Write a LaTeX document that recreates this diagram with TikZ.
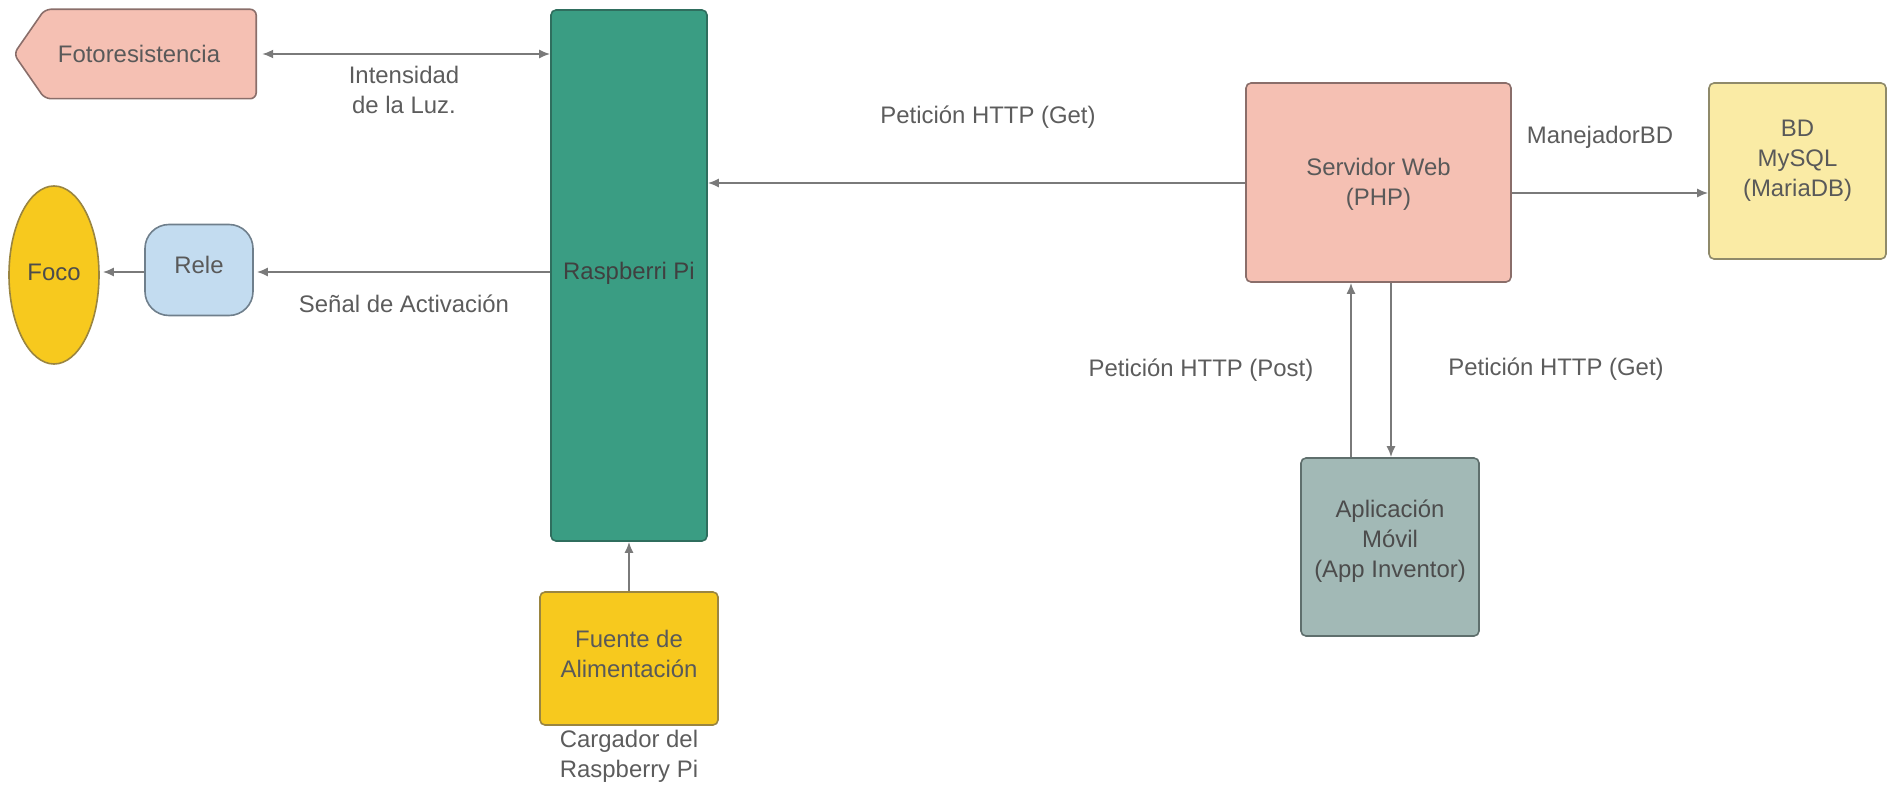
\documentclass[tikz,border=0pt]{standalone}
\usepackage{fontspec}
\setmainfont{Liberation Sans}
\usetikzlibrary{arrows.meta,shapes.geometric}
\definecolor{pinkfill}{HTML}{F5C0B3}
\definecolor{pinkdraw}{HTML}{8A6E6A}
\definecolor{tealfill}{HTML}{3A9D83}
\definecolor{tealdraw}{HTML}{2F6E5E}
\definecolor{yelfill}{HTML}{F7C91E}
\definecolor{yeldraw}{HTML}{9A8540}
\definecolor{bluefill}{HTML}{C3DCF0}
\definecolor{bluedraw}{HTML}{6F7F8C}
\definecolor{lyelfill}{HTML}{FAEBA5}
\definecolor{lyeldraw}{HTML}{8F8A6A}
\definecolor{appfill}{HTML}{A2B9B6}
\definecolor{appdraw}{HTML}{5F6F6D}
\definecolor{linegray}{HTML}{7A7A7A}
\definecolor{txtgray}{HTML}{5C5C5C}
\begin{document}
\begin{tikzpicture}[x=1bp,y=-1bp,
  every node/.style={font=\fontsize{24}{30}\selectfont, text=txtgray, align=center, inner sep=0pt},
  blk/.style={draw=#1, line width=1.6bp, rounded corners=5bp},
  conn/.style={draw=linegray, line width=1.8bp, -{Latex[length=11bp,width=9bp]}},
  lbl/.style={text=txtgray}]
\useasboundingbox (0,0) rectangle (1891,785);

% Fotoresistencia (pentagon pointing left)
\node (foto) [minimum width=242bp, minimum height=89bp] at (135,54) {};
\fill[pinkfill, draw=pinkdraw, line width=1.6bp, rounded corners=6bp]
  (foto.west) -- ([xshift=31bp]foto.north west) -- (foto.north east)
  -- (foto.south east) -- ([xshift=31bp]foto.south west) -- cycle;
\node (fototxt) [text=black!65] at ([xshift=4bp]foto.center) {Fotoresistencia};

% Raspberry Pi
\node (rpi) [blk=tealdraw, fill=tealfill, minimum width=156bp, minimum height=531bp] at (629,275.5) {};
\node (rpitxt) [text=black!75] at (629,273) {Raspberri Pi};

% Foco
\node (foco) [ellipse, draw=yeldraw, line width=1.6bp, fill=yelfill, minimum width=90bp, minimum height=178bp] at (54,275) {};
\node (focotxt) [text=black!70] at (54,272) {Foco};

% Rele
\node (rele) [draw=bluedraw, line width=1.6bp, rounded corners=24bp, fill=bluefill, minimum width=108bp, minimum height=91bp] at (199,270) {};
\node (reletxt) [text=black!65] at (199,265) {Rele};

% Fuente
\node (fuente) [blk=yeldraw, fill=yelfill, minimum width=178bp, minimum height=133bp] at (629,658.5) {};
\node (fuentetxt) [text=black!65] at (629,654) {Fuente de\\Alimentación};
\node (carg) [anchor=north] at ([yshift=-4bp]fuente.south) {Cargador del\\Raspberry Pi};

% Servidor Web
\node (srv) [blk=pinkdraw, fill=pinkfill, minimum width=265bp, minimum height=199bp] at (1378.5,182.5) {};
\node (srvtxt) [text=black!65] at (1378.5,184) {Servidor Web\\(PHP)};

% BD
\node (bd) [blk=lyeldraw, fill=lyelfill, minimum width=177bp, minimum height=176bp] at (1797.5,171) {};
\node (bdtxt) [text=black!65] at (1797.5,161) {BD\\MySQL\\(MariaDB)};

% App
\node (app) [blk=appdraw, fill=appfill, minimum width=178bp, minimum height=178bp] at (1390,547) {};
\node (apptxt) [text=black!70] at (1390,541) {Aplicación\\Móvil\\(App Inventor)};

% connectors
\draw[conn, {Latex[length=11bp,width=9bp]}-{Latex[length=11bp,width=9bp]}] ([xshift=6bp]foto.east) -- (rpi.west |- foto.east);
\draw[conn] (rpi.west |- 0,272) -- ([xshift=3bp]rele.east |- 0,272);
\draw[conn] (rele.west |- 0,272) -- ([xshift=3bp]foco.east |- 0,272);
\draw[conn] (fuente.north) -- (rpi.south);
\draw[conn] (srv.west |- 0,183) -- (rpi.east |- 0,183);
\draw[conn] (srv.east |- 0,193) -- (bd.west |- 0,193);
\draw[conn] (app.north -| 1351,0) -- (srv.south -| 1351,0);
\draw[conn] (srv.south -| 1391,0) -- (app.north -| 1391,0);

% labels
\node (l1) [lbl] at (404,90) {Intensidad\\de la Luz.};
\node (l2) [lbl] at (404,304) {Señal de Activación};
\node (l3) [lbl] at (988,117) {Petición HTTP (Get)};
\node (l4) [lbl] at (1600,137) {ManejadorBD};
\node (l5) [lbl] at (1201,370) {Petición HTTP (Post)};
\node (l6) [lbl] at (1556,369) {Petición HTTP (Get)};
\end{tikzpicture}
\end{document}
